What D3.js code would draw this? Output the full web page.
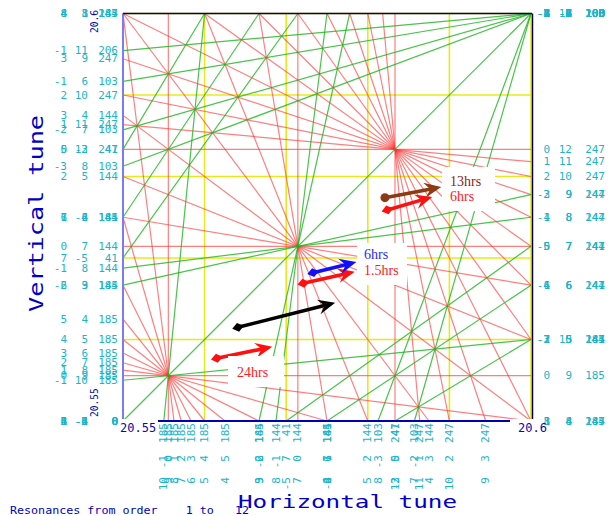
<!DOCTYPE html>
<html>
<head>
<meta charset="utf-8">
<script src="https://cdn.jsdelivr.net/npm/d3@7"></script>
<style>
  body { margin: 0; background: #fff; }
</style>
</head>
<body>
<div id="chart"></div>
<script>
// tune window and grid
const tuneRange = [20.55, 20.6];
const gridTunes = [20.56, 20.57, 20.58, 20.59, 20.6];

// resonances m*Qx + n*Qy = p
const sumResonances = [
  [0, 7, 144], [1, 6, 144], [2, 5, 144], [3, 4, 144], [4, 3, 144], [5, 2, 144], [6, 1, 144], [7, 0, 144],
  [0, 9, 185], [1, 8, 185], [2, 7, 185], [3, 6, 185], [4, 5, 185], [5, 4, 185], [6, 3, 185], [7, 2, 185],
  [8, 1, 185], [9, 0, 185],
  [0, 12, 247], [1, 11, 247], [2, 10, 247], [3, 9, 247], [4, 8, 247], [5, 7, 247], [6, 6, 247], [7, 5, 247],
  [8, 4, 247], [9, 3, 247], [10, 2, 247], [11, 1, 247], [12, 0, 247]
];
const diffResonances = [
  [1, -1, 0], [2, -2, 0], [3, -3, 0], [4, -4, 0], [5, -5, 0], [6, -6, 0],
  [5, -3, 41], [6, -4, 41], [7, -5, 41], [-3, 5, 41], [-4, 6, 41], [-5, 7, 41],
  [7, -2, 103], [8, -3, 103], [-1, 6, 103], [-2, 7, 103], [-3, 8, 103],
  [8, -1, 144], [9, -2, 144], [-1, 8, 144], [-2, 9, 144],
  [10, -1, 185], [-1, 10, 185],
  [-1, 11, 206]
];

// measured tune shifts (start, end) and their labels
const shiftFrom = [[20.5615, 20.5577], [20.5641, 20.5615], [20.5721, 20.5669], [20.5733, 20.5682], [20.5824, 20.5759], [20.5821, 20.5774]];
const shiftTo   = [[20.5683, 20.5591], [20.5760, 20.5645], [20.5784, 20.5683], [20.5786, 20.5695], [20.5879, 20.5775], [20.5890, 20.5787]];
const shiftLabels = ["24hrs", "", "1.5hrs", "6hrs", "6hrs", "13hrs"];

// ---- styles / layout ----
const W = 609, H = 516;
const shiftColors = ["#ff1010", "#000000", "#ff1010", "#1010ff", "#ff1010", "#8b3a12"];
const shiftTails = ["diamond", "diamond", "diamond", "diamond", "diamond", "circle"];
const textColors = ["#ff2020", "#000", "#ff2020", "#2a2aff", "#ff2020", "#8b1c1c"];
const labelBoxes = [
  { x: 228, y: 356, w: 56, h: 31, texts: [[237, 377, 0]] },
  { x: 357, y: 243, w: 50, h: 42, texts: [[364, 259, 3], [364, 275, 2]] },
  { x: 442, y: 167, w: 53, h: 44, texts: [[450, 186, 5], [450, 201, 4]] }
];
const leftCols = [67, 88, 118], rightCols = [550, 572, 605], bottomCols = [477, 455, 423];
const cyan = "#1cb4c8", navy = "#0a0aa8";
const mono = "'DejaVu Sans Mono', monospace";

const x = d3.scaleLinear().domain(tuneRange).range([123, 531]);
const y = d3.scaleLinear().domain(tuneRange).range([421, 13.5]);
const [qa, qb] = tuneRange, eps = 1e-9;

const svg = d3.select("#chart").append("svg")
    .attr("width", W).attr("height", H)
    .style("background", "#fff");

// line ends inside the window
function clip([m, n, p]) {
  const pts = [];
  if (n !== 0) tuneRange.forEach(qx => {
    const qy = (p - m * qx) / n;
    if (qy >= qa - eps && qy <= qb + eps) pts.push([qx, qy]);
  });
  if (m !== 0) tuneRange.forEach(qy => {
    const qx = (p - n * qy) / m;
    if (qx > qa + eps && qx < qb - eps) pts.push([qx, qy]);
  });
  return pts;
}

const gcd = (a, b) => b ? gcd(b, a % b) : Math.abs(a);
const key = r => { const g = gcd(gcd(r[0], r[1]), r[2]) || 1; return r.map(v => v / g).join(","); };
const uniq = arr => Array.from(d3.group(arr, key).values(), g => g[0]);

// yellow grid
const grid = svg.append("g").attr("stroke", "#e8e81c").attr("stroke-width", 1.6);
grid.selectAll(".gx").data(gridTunes).join("line")
    .attr("x1", d => x(d)).attr("x2", d => x(d)).attr("y1", y(qa)).attr("y2", y(qb));
grid.selectAll(".gy").data(gridTunes).join("line")
    .attr("y1", d => y(d)).attr("y2", d => y(d)).attr("x1", x(qa)).attr("x2", x(qb));

// resonance lines
function drawLines(data, color, opacity) {
  svg.append("g").selectAll("line").data(uniq(data).map(clip).filter(p => p.length === 2)).join("line")
      .attr("x1", d => x(d[0][0])).attr("y1", d => y(d[0][1]))
      .attr("x2", d => x(d[1][0])).attr("y2", d => y(d[1][1]))
      .attr("stroke", color).attr("stroke-opacity", opacity).attr("stroke-width", 1.2);
}
drawLines(sumResonances, "#ff3030", 0.62);
drawLines(diffResonances, "#1cb41c", 0.8);

// frame
svg.append("line").attr("x1", x(qa)).attr("x2", x(qa)).attr("y1", y(qb)).attr("y2", y(qa) + 2)
    .attr("stroke", "#7a7aff").attr("stroke-width", 2);
svg.append("line").attr("x1", x(qa)).attr("x2", x(qb) + 1).attr("y1", y(qb)).attr("y2", y(qb))
    .attr("stroke", "#000070").attr("stroke-width", 1.5);
svg.append("line").attr("x1", x(qb) + 1.5).attr("x2", x(qb) + 1.5).attr("y1", y(qb)).attr("y2", y(qa))
    .attr("stroke", "#000050").attr("stroke-width", 1.5);
svg.append("line").attr("x1", x(qa)).attr("x2", x(qb) + 2).attr("y1", y(qa)).attr("y2", y(qa))
    .attr("stroke", "#0000b4").attr("stroke-width", 1.8);

// tune shift arrows
const arrows = svg.append("g");
shiftFrom.forEach((f, i) => {
  const p0 = [x(f[0]), y(f[1])], p1 = [x(shiftTo[i][0]), y(shiftTo[i][1])];
  const ang = Math.atan2(p1[1] - p0[1], p1[0] - p0[0]);
  const c = shiftColors[i];
  arrows.append("line")
      .attr("x1", p0[0]).attr("y1", p0[1])
      .attr("x2", p1[0] - 9 * Math.cos(ang)).attr("y2", p1[1] - 9 * Math.sin(ang))
      .attr("stroke", c).attr("stroke-width", 3.6);
  arrows.append("path")
      .attr("d", "M0,0 L-17,-7.5 L-11,0 L-17,7.5 Z")
      .attr("transform", `translate(${p1[0]},${p1[1]}) rotate(${ang * 180 / Math.PI})`)
      .attr("fill", c);
  if (shiftTails[i] === "circle") {
    arrows.append("circle").attr("cx", p0[0]).attr("cy", p0[1]).attr("r", 4.5).attr("fill", c);
  } else {
    arrows.append("path")
        .attr("d", "M6,0 L0,-4.5 L-6,0 L0,4.5 Z")
        .attr("transform", `translate(${p0[0]},${p0[1]}) rotate(${ang * 180 / Math.PI})`)
        .attr("fill", c);
  }
});

// label boxes
labelBoxes.forEach(b => {
  svg.append("rect").attr("x", b.x).attr("y", b.y).attr("width", b.w).attr("height", b.h).attr("fill", "#fff");
  b.texts.forEach(([tx, ty, i]) => {
    svg.append("text").attr("x", tx).attr("y", ty)
        .attr("font-family", "'Liberation Serif', 'Times New Roman', serif")
        .attr("font-size", 14).attr("fill", textColors[i])
        .text(shiftLabels[i]);
  });
});

// resonance edge labels
const labels = [];
[...sumResonances, ...diffResonances].forEach(r => {
  const [m, n, p] = r;
  if (n !== 0) {
    const ql = (p - m * qa) / n;
    if (ql >= qa - eps && ql <= qb + eps) labels.push({ side: "left", pos: y(ql), r });
    const qr = (p - m * qb) / n;
    if (qr >= qa - eps && qr <= qb + eps) labels.push({ side: "right", pos: y(qr), r });
  }
  if (m !== 0) {
    const qx = (p - n * qa) / m;
    if (qx > qa + eps && qx < qb - eps) labels.push({ side: "bottom", pos: x(qx), r });
  }
});

const lab = svg.append("g").attr("font-family", mono).attr("font-size", 11).attr("fill", cyan);
labels.forEach(l => {
  l.r.forEach((v, k) => {
    const t = lab.append("text").attr("text-anchor", "end").attr("dominant-baseline", "central").text(v);
    if (l.side === "left") t.attr("x", leftCols[k]).attr("y", l.pos);
    else if (l.side === "right") t.attr("x", rightCols[k]).attr("y", l.pos);
    else t.attr("transform", `translate(${l.pos},${bottomCols[k]}) rotate(-90)`);
  });
});

// axis end values
svg.append("rect").attr("x", 119).attr("y", 419).attr("width", 39).attr("height", 15).attr("fill", "#fff");
svg.append("rect").attr("x", 510).attr("y", 419).attr("width", 33).attr("height", 15).attr("fill", "#fff");
svg.append("text").attr("x", 120).attr("y", 432).attr("font-family", mono).attr("font-size", 12)
    .attr("fill", navy).text(d3.format(".2f")(qa));
svg.append("text").attr("x", 518).attr("y", 432).attr("font-family", mono).attr("font-size", 12)
    .attr("fill", navy).text(d3.format(".1f")(qb));
svg.append("text").attr("transform", "translate(98,417) rotate(-90)").attr("font-family", mono)
    .attr("font-size", 9.6).attr("fill", navy).text(d3.format(".2f")(qa));
svg.append("text").attr("transform", "translate(98,33) rotate(-90)").attr("font-family", mono)
    .attr("font-size", 9.6).attr("fill", navy).text(d3.format(".1f")(qb));

// titles
svg.append("text").attr("x", 238).attr("y", 508)
    .attr("font-family", mono).attr("font-size", 18).attr("fill", "#0000c8")
    .attr("textLength", 219).attr("lengthAdjust", "spacingAndGlyphs")
    .text("Horizontal tune");
svg.append("text").attr("transform", "translate(43,312) rotate(-90)")
    .attr("font-family", mono).attr("font-size", 19).attr("fill", "#0000c8")
    .attr("textLength", 197).attr("lengthAdjust", "spacingAndGlyphs")
    .text("Vertical tune");
svg.append("text").attr("x", 10).attr("y", 514)
    .attr("font-family", mono).attr("font-size", 10.5).attr("fill", "#0000c0")
    .attr("textLength", 239).attr("lengthAdjust", "spacingAndGlyphs")
    .attr("xml:space", "preserve").style("white-space", "pre")
    .text("Resonances from order    1 to   12");
</script>
</body>
</html>
